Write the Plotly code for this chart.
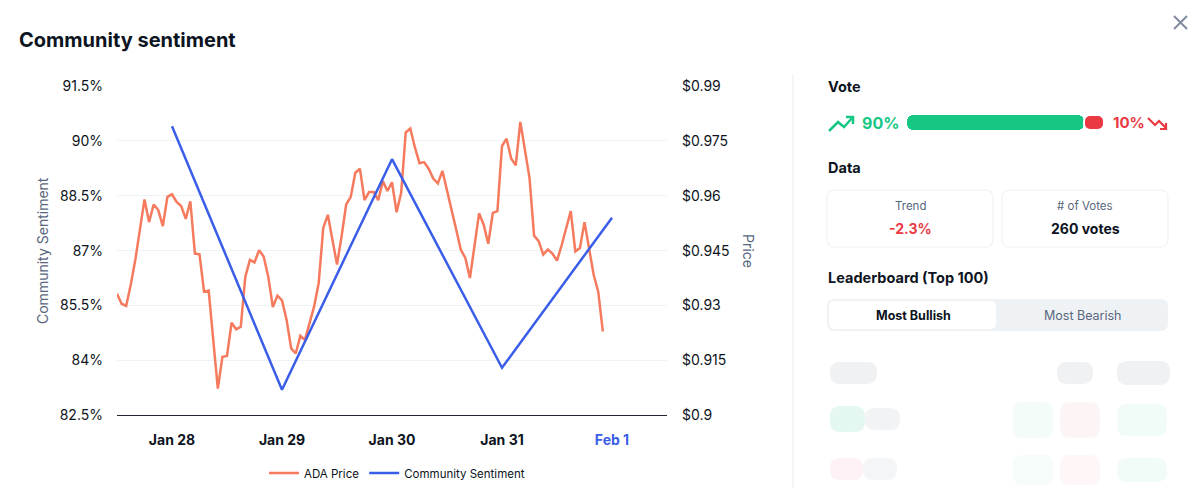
import pandas as pd
import plotly.graph_objects as go

# ---- data ----
price_start = "2024-01-27 12:00"
ada_price = [0.9332, 0.9305, 0.9299, 0.9357, 0.9425, 0.9508, 0.9590, 0.9528, 0.9576, 0.9561,
             0.9517, 0.9597, 0.9604, 0.9583, 0.9572, 0.9537, 0.9585, 0.9442, 0.9440, 0.9338,
             0.9341, 0.9206, 0.9073, 0.9160, 0.9162, 0.9253, 0.9235, 0.9242, 0.9379, 0.9425,
             0.9418, 0.9451, 0.9434, 0.9379, 0.9296, 0.9327, 0.9314, 0.9261, 0.9183, 0.9169,
             0.9217, 0.9206, 0.9252, 0.9297, 0.9361, 0.9512, 0.9548, 0.9480, 0.9412, 0.9489,
             0.9576, 0.9597, 0.9663, 0.9674, 0.9588, 0.9610, 0.9610, 0.9588, 0.9640, 0.9613,
             0.9637, 0.9555, 0.9608, 0.9773, 0.9784, 0.9732, 0.9689, 0.9692, 0.9674, 0.9647,
             0.9634, 0.9668, 0.9617, 0.9562, 0.9508, 0.9453, 0.9430, 0.9375, 0.9471, 0.9552,
             0.9521, 0.9469, 0.9553, 0.9558, 0.9736, 0.9756, 0.9702, 0.9683, 0.9802, 0.9727,
             0.9649, 0.9491, 0.9476, 0.9439, 0.9453, 0.9442, 0.9423, 0.9464, 0.9512, 0.9558,
             0.9448, 0.9457, 0.9528, 0.9453, 0.9384, 0.9338, 0.9229]
price_time = pd.date_range(price_start, periods=len(ada_price), freq="h")

sent_days = ["2024-01-28", "2024-01-29", "2024-01-30", "2024-01-31", "2024-02-01"]
sentiment = [90.4, 83.2, 89.5, 83.8, 87.9]

day_ticks = ["2024-01-28", "2024-01-29", "2024-01-30", "2024-01-31", "2024-02-01"]
day_labels = ["Jan 28", "Jan 29", "Jan 30", "Jan 31", "Feb 1"]
sent_ticks = [82.5, 84, 85.5, 87, 88.5, 90, 91.5]
sent_labels = ["82.5%", "84%", "85.5%", "87%", "88.5%", "90%", "91.5%"]
price_ticks = [0.9, 0.915, 0.93, 0.945, 0.96, 0.975, 0.99]
price_labels = ["$0.9", "$0.915", "$0.93", "$0.945", "$0.96", "$0.975", "$0.99"]

vote_bull = 90
vote_bear = 10
trend = "-2.3%"
n_votes = 260

# ---- colours ----
ORANGE = "#F57A5E"
BLUE = "#3A5EE8"
GREEN = "#16C784"
RED = "#EA3943"
DARK = "#0D1421"
GREY = "#58667E"
LINE = "#EFF2F5"
FONT = "Inter"

W, H = 1200, 488
OFF = 8  # page body margin in the browser


def px(x):
    return (x - OFF) / W


def py(y):
    return 1 - (y - OFF) / H


def rrect(x0, y0, x1, y1, r):
    pts = [("M", x0 + r, y0), ("L", x1 - r, y0), ("Q", x1, y0, x1, y0 + r),
           ("L", x1, y1 - r), ("Q", x1, y1, x1 - r, y1), ("L", x0 + r, y1),
           ("Q", x0, y1, x0, y1 - r), ("L", x0, y0 + r), ("Q", x0, y0, x0 + r, y0)]
    out = []
    for p in pts:
        cmd, vals = p[0], p[1:]
        coords = []
        for i in range(0, len(vals), 2):
            coords.append("%.5f,%.5f" % (px(vals[i]), py(vals[i + 1])))
        out.append(cmd + " " + " ".join(coords))
    return " ".join(out) + " Z"


def poly(points):
    return "M " + " L ".join("%.5f,%.5f" % (px(a), py(b)) for a, b in points)


fig = go.Figure()

fig.add_trace(go.Scatter(x=price_time, y=ada_price, name="ADA Price", mode="lines",
                         line=dict(color=ORANGE, width=2.5), yaxis="y"))
fig.add_trace(go.Scatter(x=sent_days, y=sentiment, name="Community Sentiment", mode="lines",
                         line=dict(color=BLUE, width=2.5), yaxis="y2"))

# vote bar
fig.add_trace(go.Bar(y=["v"], x=[-vote_bull], base=[vote_bull], orientation="h",
                     marker=dict(color=GREEN, line=dict(width=0)), showlegend=False,
                     xaxis="x3", yaxis="y3", hoverinfo="skip"))
fig.add_trace(go.Bar(y=["v"], x=[vote_bear], base=[vote_bull], orientation="h",
                     marker=dict(color=RED, line=dict(color="white", width=2)), showlegend=False,
                     xaxis="x3", yaxis="y3", hoverinfo="skip"))

x_text = ["<b>%s</b>" % t for t in day_labels[:-1]] + \
         ["<b><span style='color:%s'>%s</span></b>" % (BLUE, day_labels[-1])]

shapes = []
# close icon
shapes.append(dict(type="line", xref="paper", yref="paper", x0=px(1174), y0=py(16), x1=px(1187), y1=py(29),
                   line=dict(color="#808A9D", width=2)))
shapes.append(dict(type="line", xref="paper", yref="paper", x0=px(1187), y0=py(16), x1=px(1174), y1=py(29),
                   line=dict(color="#808A9D", width=2)))
# divider
shapes.append(dict(type="line", xref="paper", yref="paper", x0=px(793), y0=py(75), x1=px(793), y1=py(500),
                   line=dict(color=LINE, width=1.5)))
# trend icons
shapes.append(dict(type="path", xref="paper", yref="paper",
                   path=poly([(829, 131), (838, 122), (844, 127), (853, 117)]),
                   line=dict(color=GREEN, width=2.5)))
shapes.append(dict(type="path", xref="paper", yref="paper",
                   path=poly([(846, 117), (853, 117), (853, 124)]),
                   line=dict(color=GREEN, width=2.5)))
shapes.append(dict(type="path", xref="paper", yref="paper",
                   path=poly([(1148, 118), (1155, 125), (1159, 121), (1166, 128)]),
                   line=dict(color=RED, width=2.2)))
shapes.append(dict(type="path", xref="paper", yref="paper",
                   path=poly([(1160, 129), (1166, 129), (1166, 123)]),
                   line=dict(color=RED, width=2.2)))
# data boxes
for x0, x1 in [(827, 993), (1002, 1168)]:
    shapes.append(dict(type="path", xref="paper", yref="paper", path=rrect(x0, 190, x1, 247, 8),
                       line=dict(color=LINE, width=1.2), fillcolor="white"))
# tab control
shapes.append(dict(type="path", xref="paper", yref="paper", path=rrect(827, 299, 1168, 331, 7),
                   line=dict(width=0), fillcolor=LINE))
shapes.append(dict(type="path", xref="paper", yref="paper", path=rrect(829, 301, 996, 329, 6),
                   line=dict(width=0), fillcolor="white"))
# blurred leaderboard rows
blobs = [(830, 362, 877, 384, "#D9DCE2"), (1057, 362, 1093, 384, "#D9DCE2"), (1117, 361, 1170, 385, "#D9DCE2"),
         (830, 406, 865, 432, "#BFEBDD"), (865, 408, 900, 430, "#DDE0E5"), (1013, 402, 1053, 438, "#E3F7EF"),
         (1060, 402, 1100, 438, "#FBE5E7"), (1117, 404, 1167, 436, "#DDF5EC"),
         (830, 458, 863, 480, "#FBDDE8"), (863, 458, 897, 480, "#E3E5EA"), (1013, 455, 1053, 485, "#E6F8F1"),
         (1060, 455, 1100, 485, "#FCE9EB"), (1117, 458, 1167, 482, "#DDF5EC")]
for x0, y0, x1, y1, c in blobs:
    shapes.append(dict(type="path", xref="paper", yref="paper", path=rrect(x0, y0, x1, y1, 10),
                       line=dict(width=0), fillcolor=c, opacity=0.4, layer="below"))

annotations = []


def txt(x, y, text, size, color=DARK, bold=False, anchor="left", angle=0):
    annotations.append(dict(xref="paper", yref="paper", x=px(x), y=py(y), text=("<b>%s</b>" % text) if bold else text,
                            showarrow=False, xanchor=anchor, yanchor="middle", textangle=angle,
                            font=dict(family=FONT, size=size, color=color)))


txt(17, 40, "Community sentiment", 20, bold=True)
txt(42, 251, "Community Sentiment", 14, GREY, anchor="center", angle=-90)
txt(749, 251, "Price", 14, GREY, anchor="center", angle=90)
txt(826, 86, "Vote", 14.5, bold=True)
txt(860, 123, "%d%%" % vote_bull, 16, GREEN, bold=True)
txt(1111, 123, "%d%%" % vote_bear, 15, RED, bold=True)
txt(826, 168, "Data", 14.5, bold=True)
txt(910, 206, "Trend", 11.5, GREY, anchor="center")
txt(910, 229, trend, 14, RED, bold=True, anchor="center")
txt(1085, 206, "# of Votes", 11.5, GREY, anchor="center")
txt(1085, 229, "%d votes" % n_votes, 14, bold=True, anchor="center")
txt(826, 277, "Leaderboard (Top 100)", 14.5, bold=True)
txt(913, 315, "Most Bullish", 12.5, bold=True, anchor="center")
txt(1083, 315, "Most Bearish", 12.5, GREY, anchor="center")

fig.update_layout(
    width=W, height=H,
    margin=dict(l=0, r=0, t=0, b=0, autoexpand=False),
    paper_bgcolor="white", plot_bgcolor="white",
    font=dict(family=FONT, color=DARK),
    barmode="overlay", bargap=0, barcornerradius=6,
    showlegend=True,
    legend=dict(orientation="h", x=px(397), y=py(473), xanchor="center", yanchor="middle",
                font=dict(size=11.5, color=DARK), itemwidth=30),
    xaxis=dict(domain=[px(117), px(667)], type="date",
               range=["2024-01-27 12:00", "2024-02-01 12:00"],
               tickvals=day_ticks, ticktext=x_text, tickfont=dict(size=14, color=DARK),
               showgrid=False, zeroline=False, showline=True, linecolor="#222531", linewidth=1,
               ticks="", ticklabelstandoff=12),
    yaxis=dict(domain=[py(415.3), py(86)], side="right", range=[0.9, 0.99],
               tickvals=price_ticks, ticktext=price_labels, tickfont=dict(size=14, color=DARK),
               gridcolor=LINE, zeroline=False, ticks="", ticklabelstandoff=14),
    yaxis2=dict(overlaying="y", side="left", range=[82.5, 91.5],
                tickvals=sent_ticks, ticktext=sent_labels, tickfont=dict(size=14, color=DARK),
                showgrid=False, zeroline=False, ticks="", ticklabelstandoff=13),
    xaxis3=dict(domain=[px(907), px(1104)], range=[0, 100], visible=False, fixedrange=True),
    yaxis3=dict(domain=[py(130), py(115)], anchor="x3", visible=False, fixedrange=True),
    shapes=shapes,
    annotations=annotations,
)

fig.write_html("out.html")
